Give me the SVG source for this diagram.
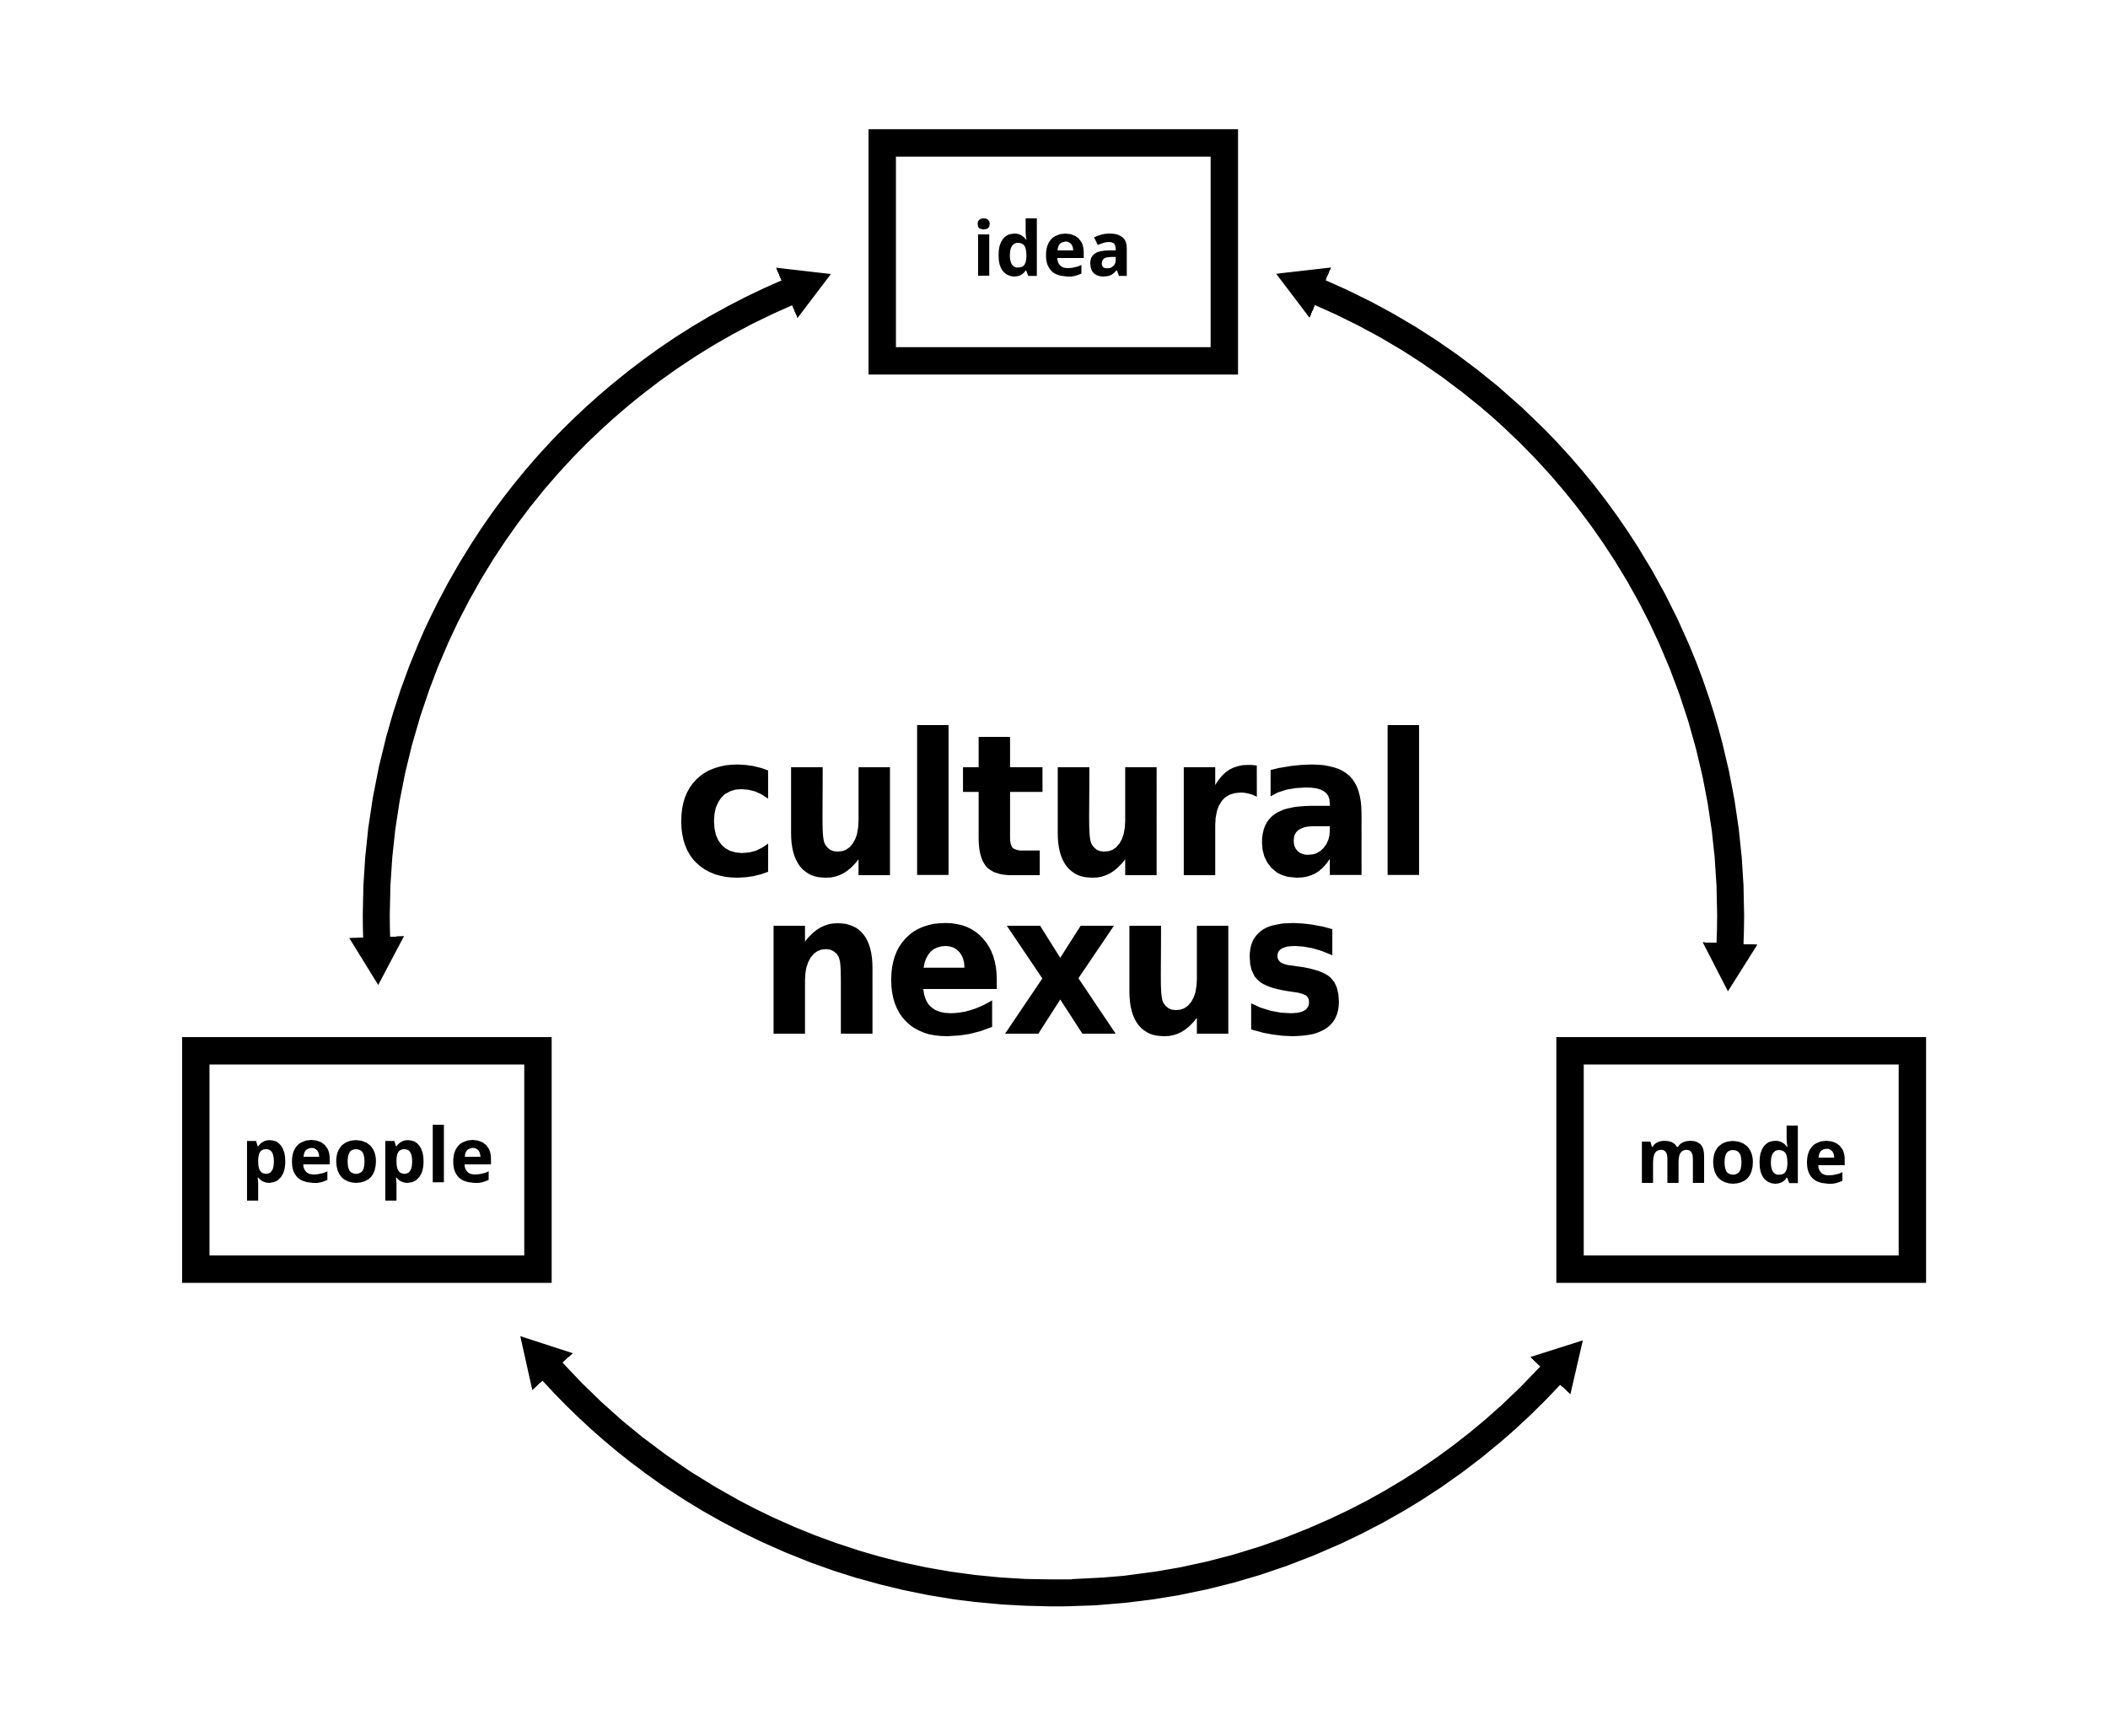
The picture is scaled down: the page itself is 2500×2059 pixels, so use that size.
<svg xmlns="http://www.w3.org/2000/svg" width="2500" height="2059" viewBox="0 0 2500 2059">
<style>
.box{fill:#fff;stroke:#000;stroke-width:32.5}
.lbl{font-family:"Open Sans","Liberation Sans",sans-serif;font-weight:bold;font-size:89px;fill:#000;text-anchor:middle}
.big{font-family:"DejaVu Sans","Verdana",sans-serif;font-weight:bold;font-size:233px;letter-spacing:-4px;fill:#000;text-anchor:middle}
.conn{fill:none;stroke:#000;stroke-width:32;marker-start:url(#head);marker-end:url(#head)}
</style>
<defs>
<marker id="head" markerUnits="userSpaceOnUse" viewBox="-1 -33 58 66" markerWidth="58" markerHeight="66" refX="0" refY="0" orient="auto-start-reverse">
<path d="M -1 -32.5 L 56 0 L -1 32.5 Z" fill="#000"/>
</marker>
</defs>
<rect width="2500" height="2059" fill="#fff"/>
<g id="connectors">
<path class="conn" d="M 446.7 1112.3 A 803 803 0 0 1 933.9 347"/>
<path class="conn" d="M 1565 346.7 A 803 803 0 0 1 2051.7 1119.8"/>
<path class="conn" d="M 1839.2 1630.9 A 803 803 0 0 1 654.7 1626.2"/>
</g>
<g id="idea">
<rect class="box" x="1046.3" y="169.5" width="405.7" height="258.5"/>
<text class="lbl" x="1248" y="326.7">idea</text>
</g>
<g id="people">
<rect class="box" x="232.2" y="1246.3" width="405.8" height="259"/>
<text class="lbl" x="436" y="1402.3">people</text>
</g>
<g id="mode">
<rect class="box" x="1862" y="1246.3" width="406" height="259"/>
<text class="lbl" x="2066" y="1403.3">mode</text>
</g>
<g id="title">
<text class="big" transform="translate(1248 1038.3) scale(0.916 1)">cultural</text>
<text class="big" transform="translate(1247 1226) scale(0.916 1)">nexus</text>
</g>
</svg>
